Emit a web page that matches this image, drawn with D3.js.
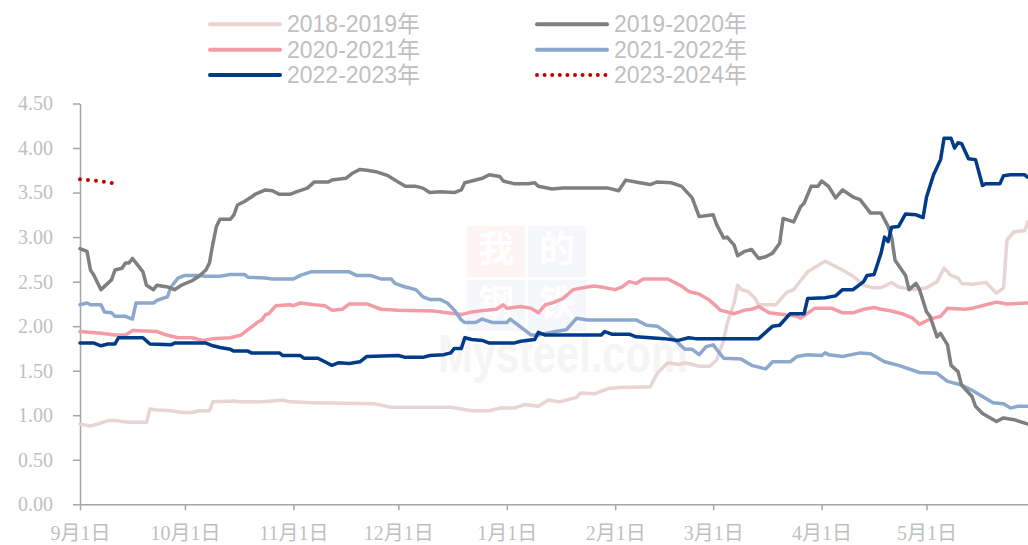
<!DOCTYPE html>
<html>
<head>
<meta charset="utf-8">
<script src="https://cdn.jsdelivr.net/npm/d3@7"></script>
<style>
  body { margin: 0; background: #fff; }
  svg { display: block; }
</style>
</head>
<body>
<div id="chart"></div>
<script>
// seasons shown in the legend, in legend order
var seasons = ["2018-2019年", "2019-2020年", "2020-2021年", "2021-2022年", "2022-2023年", "2023-2024年"];

var xTickDates = ["09-01", "10-01", "11-01", "12-01", "01-01", "02-01", "03-01", "04-01", "05-01"];
var xTickLabels = ["9月1日", "10月1日", "11月1日", "12月1日", "1月1日", "2月1日", "3月1日", "4月1日", "5月1日"];
var yTicks = [0, 0.5, 1, 1.5, 2, 2.5, 3, 3.5, 4, 4.5];

var s2018 = [
    ["09-01", 0.90], ["09-04", 0.88], ["09-06", 0.90], ["09-09", 0.94], ["09-11", 0.94], ["09-13", 0.93],
    ["09-15", 0.92], ["09-20", 0.92], ["09-21", 1.07], ["09-23", 1.06], ["09-27", 1.05], ["09-30", 1.03],
    ["10-03", 1.03], ["10-05", 1.05], ["10-08", 1.05], ["10-09", 1.15], ["10-15", 1.16], ["10-17", 1.15],
    ["10-22", 1.15], ["10-26", 1.16], ["10-29", 1.17], ["10-31", 1.15], ["11-07", 1.14], ["11-24", 1.13],
    ["11-29", 1.09], ["12-16", 1.09], ["12-22", 1.05], ["12-27", 1.05], ["12-30", 1.08], ["01-03", 1.08],
    ["01-06", 1.12], ["01-10", 1.10], ["01-13", 1.17], ["01-16", 1.15], ["01-21", 1.20], ["01-22", 1.25],
    ["01-26", 1.24], ["01-30", 1.30], ["02-02", 1.31], ["02-11", 1.32], ["02-13", 1.47], ["02-16", 1.59],
    ["02-19", 1.57], ["02-21", 1.59], ["02-25", 1.55], ["02-28", 1.55], ["03-02", 1.62], ["03-04", 1.84],
    ["03-05", 2.03], ["03-07", 2.26], ["03-08", 2.46], ["03-09", 2.41], ["03-11", 2.39], ["03-13", 2.31],
    ["03-14", 2.24], ["03-19", 2.24], ["03-20", 2.29], ["03-22", 2.38], ["03-24", 2.41], ["03-26", 2.51],
    ["03-28", 2.61], ["03-31", 2.68], ["04-02", 2.73], ["04-04", 2.69], ["04-07", 2.63], ["04-10", 2.56],
    ["04-13", 2.46], ["04-16", 2.43], ["04-18", 2.43], ["04-21", 2.49], ["04-23", 2.44], ["04-27", 2.41],
    ["05-01", 2.43], ["05-04", 2.50], ["05-06", 2.65], ["05-08", 2.57], ["05-10", 2.54], ["05-11", 2.48],
    ["05-14", 2.47], ["05-18", 2.49], ["05-21", 2.37], ["05-23", 2.43], ["05-24", 2.97], ["05-26", 3.06],
    ["05-29", 3.07], ["05-30", 3.17]
];

var s2019 = [
    ["09-01", 2.87], ["09-03", 2.84], ["09-04", 2.63], ["09-05", 2.57], ["09-07", 2.41], ["09-10", 2.52],
    ["09-11", 2.63], ["09-13", 2.65], ["09-14", 2.71], ["09-15", 2.71], ["09-16", 2.76], ["09-17", 2.71],
    ["09-19", 2.61], ["09-20", 2.46], ["09-22", 2.41], ["09-23", 2.46], ["09-26", 2.44], ["09-28", 2.41],
    ["09-30", 2.46], ["10-03", 2.51], ["10-05", 2.56], ["10-07", 2.63], ["10-08", 2.71], ["10-09", 2.93],
    ["10-10", 3.12], ["10-11", 3.20], ["10-14", 3.20], ["10-15", 3.25], ["10-16", 3.36], ["10-18", 3.40],
    ["10-20", 3.45], ["10-21", 3.48], ["10-24", 3.53], ["10-26", 3.52], ["10-28", 3.48], ["10-31", 3.48],
    ["11-02", 3.51], ["11-05", 3.55], ["11-07", 3.62], ["11-11", 3.62], ["11-12", 3.64], ["11-16", 3.66],
    ["11-18", 3.72], ["11-20", 3.76], ["11-22", 3.75], ["11-25", 3.73], ["11-28", 3.69], ["11-30", 3.64],
    ["12-03", 3.57], ["12-06", 3.57], ["12-08", 3.55], ["12-10", 3.50], ["12-13", 3.51], ["12-17", 3.50],
    ["12-19", 3.53], ["12-20", 3.61], ["12-22", 3.63], ["12-25", 3.66], ["12-27", 3.70], ["12-30", 3.68],
    ["12-31", 3.63], ["01-03", 3.60], ["01-07", 3.60], ["01-09", 3.61], ["01-10", 3.57], ["01-14", 3.54],
    ["01-17", 3.55], ["01-30", 3.55], ["02-02", 3.52], ["02-04", 3.64], ["02-08", 3.61], ["02-11", 3.59],
    ["02-13", 3.62], ["02-17", 3.61], ["02-20", 3.57], ["02-23", 3.44], ["02-25", 3.23], ["03-01", 3.25],
    ["03-02", 3.14], ["03-04", 2.99], ["03-05", 3.00], ["03-07", 2.91], ["03-08", 2.79], ["03-10", 2.84],
    ["03-12", 2.86], ["03-14", 2.76], ["03-16", 2.78], ["03-18", 2.82], ["03-20", 2.93], ["03-21", 3.21],
    ["03-24", 3.17], ["03-26", 3.34], ["03-27", 3.38], ["03-29", 3.57], ["03-31", 3.57], ["04-01", 3.63],
    ["04-03", 3.57], ["04-05", 3.44], ["04-07", 3.53], ["04-10", 3.45], ["04-12", 3.42], ["04-15", 3.27],
    ["04-18", 3.27], ["04-20", 3.12], ["04-21", 3.00], ["04-22", 2.74], ["04-25", 2.57], ["04-26", 2.41],
    ["04-28", 2.48], ["04-29", 2.41], ["05-01", 2.16], ["05-02", 2.11], ["05-04", 1.88], ["05-05", 1.92],
    ["05-07", 1.79], ["05-08", 1.56], ["05-10", 1.49], ["05-11", 1.34], ["05-14", 1.21], ["05-15", 1.10],
    ["05-17", 1.02], ["05-21", 0.93], ["05-23", 0.97], ["05-26", 0.95], ["05-30", 0.90]
];

var s2020 = [
    ["09-01", 1.94], ["09-07", 1.92], ["09-11", 1.90], ["09-14", 1.90], ["09-16", 1.95], ["09-23", 1.94],
    ["09-25", 1.91], ["09-29", 1.87], ["10-03", 1.87], ["10-06", 1.84], ["10-09", 1.86], ["10-14", 1.87],
    ["10-17", 1.90], ["10-19", 1.96], ["10-22", 2.05], ["10-23", 2.07], ["10-24", 2.13], ["10-25", 2.14],
    ["10-27", 2.23], ["10-31", 2.24], ["11-01", 2.23], ["11-03", 2.26], ["11-07", 2.24], ["11-10", 2.23],
    ["11-12", 2.18], ["11-15", 2.19], ["11-17", 2.25], ["11-22", 2.25], ["11-26", 2.19], ["12-01", 2.18],
    ["12-11", 2.17], ["12-15", 2.15], ["12-19", 2.13], ["12-22", 2.16], ["12-26", 2.18], ["12-29", 2.19],
    ["12-31", 2.24], ["01-01", 2.20], ["01-05", 2.22], ["01-08", 2.20], ["01-10", 2.15], ["01-12", 2.24],
    ["01-14", 2.26], ["01-17", 2.31], ["01-20", 2.41], ["01-24", 2.44], ["01-26", 2.45], ["01-28", 2.44],
    ["02-01", 2.41], ["02-03", 2.44], ["02-05", 2.50], ["02-07", 2.48], ["02-09", 2.53], ["02-16", 2.53],
    ["02-20", 2.45], ["02-22", 2.39], ["02-25", 2.36], ["02-28", 2.29], ["03-02", 2.22], ["03-03", 2.18],
    ["03-07", 2.14], ["03-10", 2.18], ["03-12", 2.19], ["03-14", 2.22], ["03-17", 2.15], ["03-21", 2.13],
    ["03-25", 2.11], ["03-26", 2.09], ["03-30", 2.20], ["04-04", 2.20], ["04-07", 2.15], ["04-10", 2.15],
    ["04-13", 2.19], ["04-16", 2.21], ["04-18", 2.19], ["04-21", 2.17], ["04-24", 2.14], ["04-27", 2.09],
    ["04-29", 2.02], ["05-02", 2.08], ["05-05", 2.11], ["05-07", 2.20], ["05-12", 2.19], ["05-14", 2.20],
    ["05-18", 2.24], ["05-21", 2.27], ["05-24", 2.25], ["05-30", 2.26]
];

var s2021 = [
    ["09-01", 2.24], ["09-03", 2.26], ["09-04", 2.24], ["09-07", 2.24], ["09-08", 2.16], ["09-10", 2.15],
    ["09-11", 2.11], ["09-14", 2.11], ["09-16", 2.08], ["09-17", 2.26], ["09-22", 2.26], ["09-23", 2.29],
    ["09-26", 2.33], ["09-27", 2.44], ["09-29", 2.54], ["10-01", 2.57], ["10-05", 2.57], ["10-07", 2.56],
    ["10-11", 2.56], ["10-14", 2.58], ["10-18", 2.58], ["10-19", 2.55], ["10-24", 2.54], ["10-26", 2.53],
    ["11-01", 2.53], ["11-03", 2.57], ["11-06", 2.61], ["11-17", 2.61], ["11-19", 2.57], ["11-23", 2.57],
    ["11-26", 2.53], ["11-29", 2.53], ["11-30", 2.48], ["12-03", 2.44], ["12-06", 2.41], ["12-08", 2.33],
    ["12-10", 2.30], ["12-13", 2.30], ["12-15", 2.26], ["12-17", 2.18], ["12-19", 2.07], ["12-20", 2.04],
    ["12-23", 2.04], ["12-25", 2.08], ["12-28", 2.04], ["01-01", 2.04], ["01-02", 2.08], ["01-05", 1.99],
    ["01-08", 1.90], ["01-10", 1.90], ["01-15", 1.94], ["01-18", 1.96], ["01-21", 2.09], ["01-24", 2.07],
    ["02-07", 2.07], ["02-10", 2.01], ["02-13", 2.00], ["02-16", 1.92], ["02-19", 1.81], ["02-21", 1.74],
    ["02-23", 1.74], ["02-25", 1.68], ["02-27", 1.77], ["03-01", 1.79], ["03-04", 1.64], ["03-09", 1.63],
    ["03-12", 1.56], ["03-16", 1.52], ["03-18", 1.60], ["03-23", 1.60], ["03-25", 1.66], ["03-28", 1.68],
    ["04-01", 1.67], ["04-02", 1.70], ["04-03", 1.68], ["04-07", 1.66], ["04-12", 1.70], ["04-15", 1.69],
    ["04-19", 1.60], ["04-23", 1.56], ["04-29", 1.48], ["05-04", 1.47], ["05-07", 1.38], ["05-11", 1.34],
    ["05-14", 1.28], ["05-20", 1.14], ["05-23", 1.13], ["05-25", 1.08], ["05-27", 1.10], ["05-30", 1.10]
];

var s2022 = [
    ["09-01", 1.81], ["09-05", 1.81], ["09-07", 1.78], ["09-09", 1.80], ["09-11", 1.80], ["09-12", 1.87],
    ["09-19", 1.87], ["09-21", 1.80], ["09-27", 1.79], ["09-28", 1.81], ["10-07", 1.81], ["10-09", 1.78],
    ["10-11", 1.76], ["10-14", 1.74], ["10-15", 1.72], ["10-19", 1.72], ["10-20", 1.70], ["10-28", 1.70],
    ["10-29", 1.67], ["11-03", 1.67], ["11-04", 1.64], ["11-08", 1.64], ["11-10", 1.60], ["11-12", 1.56],
    ["11-14", 1.59], ["11-17", 1.58], ["11-20", 1.60], ["11-22", 1.66], ["12-01", 1.67], ["12-03", 1.65],
    ["12-08", 1.65], ["12-10", 1.67], ["12-14", 1.68], ["12-16", 1.70], ["12-17", 1.75], ["12-19", 1.75],
    ["12-20", 1.87], ["12-22", 1.85], ["12-25", 1.84], ["12-27", 1.81], ["01-03", 1.81], ["01-05", 1.83],
    ["01-09", 1.85], ["01-10", 1.93], ["01-12", 1.90], ["01-28", 1.90], ["01-29", 1.94], ["01-31", 1.91],
    ["02-05", 1.91], ["02-07", 1.88], ["02-15", 1.86], ["02-19", 1.84], ["02-22", 1.87], ["02-24", 1.86],
    ["03-14", 1.86], ["03-18", 2.00], ["03-20", 2.01], ["03-23", 2.14], ["03-27", 2.14], ["03-28", 2.31],
    ["04-02", 2.32], ["04-05", 2.34], ["04-07", 2.41], ["04-10", 2.41], ["04-13", 2.50], ["04-14", 2.57],
    ["04-16", 2.58], ["04-18", 2.82], ["04-19", 3.00], ["04-20", 2.95], ["04-21", 3.11], ["04-23", 3.12],
    ["04-25", 3.26], ["04-28", 3.25], ["04-30", 3.22], ["05-01", 3.45], ["05-03", 3.70], ["05-05", 3.87],
    ["05-06", 4.11], ["05-08", 4.11], ["05-09", 4.00], ["05-10", 4.06], ["05-11", 4.05], ["05-13", 3.88],
    ["05-15", 3.87], ["05-17", 3.58], ["05-18", 3.60], ["05-22", 3.60], ["05-23", 3.69], ["05-25", 3.70],
    ["05-29", 3.70], ["05-30", 3.67]
];

var s2023 = [
    ["09-01", 3.65], ["09-04", 3.64], ["09-06", 3.63], ["09-08", 3.62], ["09-11", 3.60]
];

var W = 1028, H = 545;
var margin = {left: 80, right: 0, top: 103.5, bottom: 40.7};

var parseDay = d3.timeParse("%Y-%m-%d");
function toDate(md) {
    var m = +md.slice(0, 2);
    return parseDay((m >= 9 ? "2022-" : "2023-") + md);
}

var x = d3.scaleTime()
    .domain([toDate("09-01"), toDate("05-30")])
    .range([margin.left, W - margin.right]);
var y = d3.scaleLinear()
    .domain([0, 4.5])
    .range([H - margin.bottom, margin.top]);

var svg = d3.select("#chart").append("svg")
    .attr("width", W)
    .attr("height", H);

// faint watermark behind the lines
var wm = svg.append("g").attr("class", "watermark");
var boxes = [
    {t: "我", x: 467, y: 226, c: "#fef4f4"},
    {t: "的", x: 528, y: 226, c: "#f6f7fb"},
    {t: "钢", x: 467, y: 280, c: "#f6f7fb"},
    {t: "铁", x: 528, y: 280, c: "#f6f7fb"}
];
boxes.forEach(function (b) {
    wm.append("rect").attr("x", b.x).attr("y", b.y).attr("width", 58).attr("height", 51).attr("fill", b.c);
    wm.append("text").attr("x", b.x + 29).attr("y", b.y + 36)
        .attr("text-anchor", "middle")
        .attr("font-family", "Noto Sans CJK SC")
        .attr("font-size", 36)
        .attr("font-weight", 700)
        .attr("fill", "#ffffff")
        .text(b.t);
});
wm.append("text")
    .attr("x", 438).attr("y", 372)
    .attr("font-family", "Liberation Sans")
    .attr("font-size", 54)
    .attr("font-weight", 700)
    .attr("fill", "#f5f5f5")
    .attr("textLength", 250)
    .attr("lengthAdjust", "spacingAndGlyphs")
    .text("Mysteel.com");

// axes
var axisColor = "#a6a6a6";
var labelColor = "#bfbfbf";

var xAxis = d3.axisBottom(x)
    .tickValues(xTickDates.map(toDate))
    .tickFormat(function (d, i) { return xTickLabels[i]; })
    .tickSize(6)
    .tickPadding(16)
    .tickSizeOuter(0);

var gx = svg.append("g")
    .attr("transform", "translate(0," + y(0) + ")")
    .call(xAxis);
gx.select(".domain").attr("stroke", axisColor).attr("stroke-width", 1.5);
gx.selectAll(".tick line").attr("stroke", axisColor).attr("stroke-width", 1.5);
gx.selectAll(".tick text")
    .attr("fill", labelColor)
    .attr("font-family", "'Liberation Serif', 'Noto Sans CJK SC'")
    .attr("font-size", 20);

var yAxis = d3.axisLeft(y)
    .tickValues(yTicks)
    .tickFormat(d3.format(".2f"))
    .tickSize(7)
    .tickPadding(20)
    .tickSizeOuter(0);

var gy = svg.append("g")
    .attr("transform", "translate(" + margin.left + ",0)")
    .call(yAxis);
gy.select(".domain").attr("stroke", axisColor).attr("stroke-width", 1.5);
gy.selectAll(".tick line").attr("stroke", axisColor).attr("stroke-width", 1.5);
gy.selectAll(".tick text")
    .attr("fill", labelColor)
    .attr("font-family", "'Liberation Serif'")
    .attr("font-size", 20);

// series, drawn back to front
var seriesList = [
    {name: seasons[0], data: s2018, color: "#e8d4d4", width: 3.5},
    {name: seasons[2], data: s2020, color: "#f39ca5", width: 3.5},
    {name: seasons[3], data: s2021, color: "#8ca8cd", width: 3.5},
    {name: seasons[1], data: s2019, color: "#7f7f7f", width: 3.5},
    {name: seasons[4], data: s2022, color: "#003b8a", width: 3.5},
    {name: seasons[5], data: s2023, color: "#c00000", width: 4, dash: "0,8"}
];

var line = d3.line()
    .x(function (d) { return x(toDate(d[0])); })
    .y(function (d) { return y(d[1]); });

svg.append("g").attr("class", "lines")
    .selectAll("path")
    .data(seriesList)
    .enter().append("path")
    .attr("d", function (d) { return line(d.data); })
    .attr("fill", "none")
    .attr("stroke", function (d) { return d.color; })
    .attr("stroke-width", function (d) { return d.width; })
    .attr("stroke-linejoin", "round")
    .attr("stroke-linecap", "round")
    .attr("stroke-dasharray", function (d) { return d.dash || null; });

// legend, two columns, three rows
var legendItems = [
    {name: seasons[0], color: "#e8d4d4"},
    {name: seasons[1], color: "#7f7f7f"},
    {name: seasons[2], color: "#f39ca5"},
    {name: seasons[3], color: "#8ca8cd"},
    {name: seasons[4], color: "#003b8a"},
    {name: seasons[5], color: "#c00000", dash: "0,7.6"}
];
var legend = svg.append("g").attr("class", "legend");
var lg = legend.selectAll("g")
    .data(legendItems)
    .enter().append("g")
    .attr("transform", function (d, i) {
        var col = i % 2, row = Math.floor(i / 2);
        return "translate(" + (col ? 537 : 210) + "," + (24.3 + row * 25.4) + ")";
    });
lg.append("line")
    .attr("x1", 0).attr("x2", 70)
    .attr("stroke", function (d) { return d.color; })
    .attr("stroke-width", 4)
    .attr("stroke-linecap", "round")
    .attr("stroke-dasharray", function (d) { return d.dash || null; });
lg.append("text")
    .attr("x", 77)
    .attr("y", 8)
    .attr("fill", labelColor)
    .attr("font-family", "'Liberation Sans', 'Noto Sans CJK SC'")
    .attr("font-size", 23)
    .text(function (d) { return d.name; });
</script>
</body>
</html>
